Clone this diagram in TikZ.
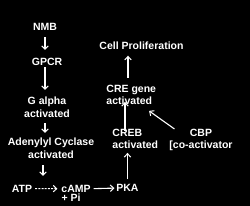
\documentclass[tikz,border=0pt]{standalone}
\usepackage{fontspec}
\setmainfont{Liberation Sans}
\usetikzlibrary{arrows.meta,calc}
\begin{document}
\begin{tikzpicture}[x=1pt,y=-1pt,
  lbl/.style={text=white,inner sep=0pt,outer sep=0pt,anchor=north,
    font=\fontsize{10.5}{12.5}\selectfont\bfseries},
  arr/.style={draw=white,line width=1.1pt,-{Straight Barb[length=3.4pt,width=6.4pt,line width=1pt]}},
  darr/.style={arr,dash pattern=on 2pt off 1.2pt}]
\fill[black] (0,0) rectangle (250,206);
\useasboundingbox (0,0) rectangle (250,206);
\node[lbl] (nmb) at (45,23) {NMB};
\node[lbl] (gpcr) at (47,58) {GPCR};
\node[lbl,align=center] (galpha) at (47,97) {G alpha\\activated};
\node[lbl,align=center] (ac) at (51,138) {Adenylyl Cyclase\\activated};
\node[lbl] (atp) at (22,185) {ATP};
\node[lbl] (camp) at (76,185) {cAMP};
\node[lbl] (pi) at (71,194) {+ Pi};
\node[lbl] (pka) at (127.5,184.5) {PKA};
\node[lbl] (cell) at (141.5,42) {Cell Proliferation};
\node[lbl,align=left,anchor=north west] (cre) at (106.5,85) {CRE gene\\activated};
\node[lbl,align=left,anchor=north west] (creb) at (112.5,129) {CREB\\activated};
\node[lbl,align=center] (cbp) at (201,129) {CBP\\\relax{}[co-activator};
\coordinate (acend) at (43,176);
% arrows
\draw[arr] ([xshift=0pt,yshift=-7pt]nmb.south) -- ([yshift=8pt]nmb.south |- gpcr.north);
\draw[arr] ([xshift=-2pt,yshift=-2pt]gpcr.south) -- ([xshift=-2pt,yshift=7pt]gpcr.south |- galpha.north);
\draw[arr] ([xshift=-2pt,yshift=-6pt]galpha.south) -- ([xshift=-2pt,yshift=5pt]galpha.south |- ac.north);
\draw[arr] ($(ac.south)+(-8,7)$) -- (acend);
\draw[darr] ([xshift=3pt]atp.east) -- ([xshift=-4pt]camp.west);
\draw[arr] ([xshift=3pt]camp.east) -- ([xshift=-2pt]pka.west);
\draw[arr] ([yshift=5pt]pka.north) -- ([yshift=-4pt]pka.north |- creb.south);
\draw[arr] ([xshift=12.5pt,yshift=-2pt]creb.north west) -- ([xshift=12.5pt,yshift=3pt]creb.north west |- cre.south);
\draw[arr] ([xshift=21.5pt,yshift=7pt]cre.north west) -- ([xshift=21.5pt,yshift=-6pt]cre.north west |- cell.south);
\draw[arr] ($(cbp.north west)+(5,0)$) -- ($(cre.south east)+(-7,6)$);
\end{tikzpicture}
\end{document}
